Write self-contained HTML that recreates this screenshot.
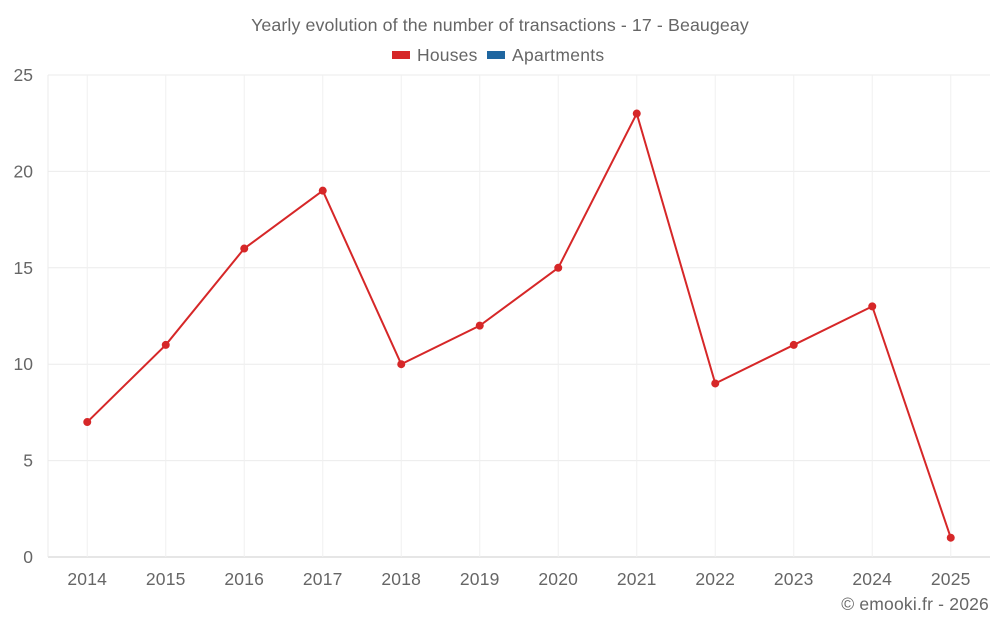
<!DOCTYPE html>
<html><head><meta charset="utf-8"><style>
body{margin:0;background:#fff;font-family:"Liberation Sans",sans-serif;}
svg text{font-family:"Liberation Sans",sans-serif;fill:#666;}
</style></head><body>
<svg id="chart" width="1000" height="625" viewBox="0 0 1000 625">
<text x="500" y="31" text-anchor="middle" font-size="17.8" letter-spacing="0.1">Yearly evolution of the number of transactions - 17 - Beaugeay</text>
<g><rect x="392" y="51" width="18" height="8" fill="#d62728"/><text x="417" y="61" font-size="17.5" letter-spacing="0.2">Houses</text></g>
<g><rect x="487" y="51" width="18" height="8" fill="#1f66a0"/><text x="512" y="61" font-size="17.5" letter-spacing="0.3">Apartments</text></g>
<g id="grid"></g><g id="axes"></g><g id="series"></g>
<text x="989" y="610" text-anchor="end" font-size="17.5" letter-spacing="0.2">© emooki.fr - 2026</text>
</svg>
<script>
const years=["2014","2015","2016","2017","2018","2019","2020","2021","2022","2023","2024","2025"];
const houses=[7,11,16,19,10,12,15,23,9,11,13,1];
const yTicks=[0,5,10,15,20,25];
const L=48,R=990,T=75,B=557,yMax=25;
const step=(R-L)/years.length;
const x=i=>L+step*(i+0.5);
const y=v=>B-(v/yMax)*(B-T);
const ns="http://www.w3.org/2000/svg";
function mk(tag,attrs,parent){const e=document.createElementNS(ns,tag);for(const k in attrs)e.setAttribute(k,attrs[k]);parent.appendChild(e);return e;}
const grid=document.getElementById('grid'),axes=document.getElementById('axes'),ser=document.getElementById('series');
yTicks.forEach(t=>{
 const ln=mk('line',{x1:L,x2:R,y1:y(t),y2:y(t),stroke:t===0?'#ccc':'#ebebeb','stroke-width':1},grid);
 
 
 const tx=mk('text',{x:33,y:y(t)+6,'text-anchor':'end','font-size':17.5},axes);tx.textContent=t;
 
 
});
mk('line',{x1:L,x2:L,y1:T,y2:B,stroke:'#ebebeb'},grid);
years.forEach((yr,i)=>{
 const ln=mk('line',{x1:x(i),x2:x(i),y1:T,y2:B,stroke:'#f0f0f0'},grid);
 
 
 const tx=mk('text',{x:x(i),y:585,'text-anchor':'middle','font-size':17.5,'letter-spacing':0.2},axes);tx.textContent=yr;
 
 
});
const pl=mk('polyline',{points:houses.map((v,i)=>x(i)+','+y(v)).join(' '),fill:'none',stroke:'#d62728','stroke-width':2},ser);


houses.forEach((v,i)=>{
 const c=mk('circle',{cx:x(i),cy:y(v),r:4,fill:'#d62728'},ser);
 
 
});
</script>
</body></html>
